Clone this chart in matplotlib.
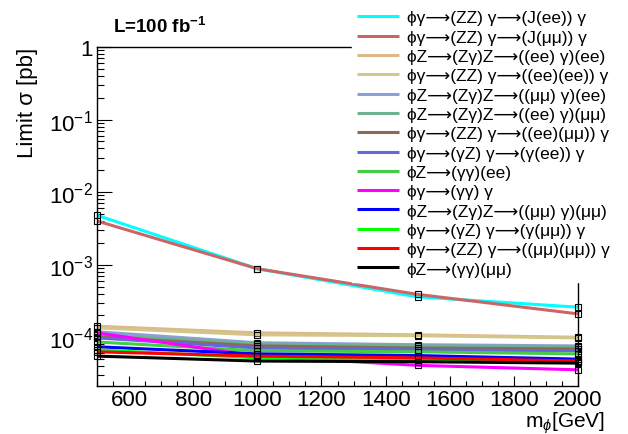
import matplotlib
matplotlib.use("Agg")
import matplotlib.pyplot as plt
from matplotlib.ticker import MultipleLocator, LogLocator, FuncFormatter, NullFormatter
import numpy as np

plt.rcParams['font.family'] = ['Liberation Sans', 'DejaVu Sans']
plt.rcParams['mathtext.fontset'] = 'custom'
plt.rcParams['mathtext.rm'] = 'Liberation Sans'
plt.rcParams['mathtext.it'] = 'Liberation Sans:italic'
plt.rcParams['mathtext.bf'] = 'Liberation Sans:bold'
plt.rcParams['mathtext.fallback'] = 'stixsans'

# ---- data ----
masses = [500, 1000, 1500, 2000]

labels = [
    "ϕγ⟶(ZZ) γ⟶(J(ee)) γ",
    "ϕγ⟶(ZZ) γ⟶(J(μμ)) γ",
    "ϕZ⟶(Zγ)Z⟶((ee) γ)(ee)",
    "ϕγ⟶(ZZ) γ⟶((ee)(ee)) γ",
    "ϕZ⟶(Zγ)Z⟶((μμ) γ)(ee)",
    "ϕZ⟶(Zγ)Z⟶((ee) γ)(μμ)",
    "ϕγ⟶(ZZ) γ⟶((ee)(μμ)) γ",
    "ϕγ⟶(γZ) γ⟶(γ(ee)) γ",
    "ϕZ⟶(γγ)(ee)",
    "ϕγ⟶(γγ) γ",
    "ϕZ⟶(Zγ)Z⟶((μμ) γ)(μμ)",
    "ϕγ⟶(γZ) γ⟶(γ(μμ)) γ",
    "ϕγ⟶(ZZ) γ⟶((μμ)(μμ)) γ",
    "ϕZ⟶(γγ)(μμ)",
]

colors = ['#00ffff', '#cc6666', '#deb887', '#d2c68a', '#8c9ed8', '#6db38f',
          '#8b6a55', '#6666dd', '#44cc44', '#ff00ff', '#0000ff', '#00ff00',
          '#ff0000', '#000000']

lim_J_ee      = [4.8e-3, 8.8e-4, 3.6e-4, 2.6e-4]
lim_J_mumu    = [4.0e-3, 8.8e-4, 3.9e-4, 2.1e-4]
lim_Zg_eeg_ee = [1.42e-4, 1.15e-4, 1.08e-4, 1.0e-4]
lim_ZZ_eeee   = [1.35e-4, 1.08e-4, 1.05e-4, 9.8e-5]
lim_Zg_mmg_ee = [1.19e-4, 8.4e-5, 7.9e-5, 7.6e-5]
lim_Zg_eeg_mm = [1.08e-4, 8.1e-5, 7.6e-5, 7.4e-5]
lim_ZZ_eemm   = [1.01e-4, 7.6e-5, 7.1e-5, 6.9e-5]
lim_gZ_ee     = [9.8e-5, 7.1e-5, 6.7e-5, 6.5e-5]
lim_gg_ee     = [8.6e-5, 6.5e-5, 6.3e-5, 5.9e-5]
lim_gg_g      = [1.15e-4, 5.5e-5, 4.1e-5, 3.56e-5]
lim_Zg_mmg_mm = [7.4e-5, 5.9e-5, 5.6e-5, 5.0e-5]
lim_gZ_mm     = [6.7e-5, 5.2e-5, 4.9e-5, 4.6e-5]
lim_ZZ_mmmm   = [6.3e-5, 5.5e-5, 5.2e-5, 4.7e-5]
lim_gg_mm     = [5.5e-5, 4.7e-5, 4.6e-5, 4.4e-5]

series = [lim_J_ee, lim_J_mumu, lim_Zg_eeg_ee, lim_ZZ_eeee, lim_Zg_mmg_ee,
          lim_Zg_eeg_mm, lim_ZZ_eemm, lim_gZ_ee, lim_gg_ee, lim_gg_g,
          lim_Zg_mmg_mm, lim_gZ_mm, lim_ZZ_mmmm, lim_gg_mm]

W, H = 628, 435
fig = plt.figure(figsize=(W / 100, H / 100), dpi=100)
ax = fig.add_axes([97 / W, 1 - 387 / H, (578 - 97) / W, (387 - 48) / H])

handles = []
for vals, col, lab in zip(series, colors, labels):
    ln, = ax.plot(masses, vals, color=col, lw=2.2, label=lab,
                  solid_capstyle='butt')
    ax.plot(masses, vals, ls='none', marker='s', ms=4, mfc='none',
            mec='black', mew=0.8, clip_on=False)
    handles.append(ln)

ax.set_yscale('log')
ax.set_xlim(500, 2000)
ax.set_ylim(2.13e-5, 1.0)

ax.xaxis.set_major_locator(MultipleLocator(200))
ax.xaxis.set_minor_locator(MultipleLocator(50))
ax.yaxis.set_major_locator(LogLocator(base=10, numticks=10))
ax.yaxis.set_minor_locator(LogLocator(base=10, subs=np.arange(2, 10), numticks=20))
ax.yaxis.set_minor_formatter(NullFormatter())


def yfmt(v, pos):
    e = int(round(np.log10(v)))
    if e == 0:
        return "1"
    return r"$10^{%d}$" % e


ax.yaxis.set_major_formatter(FuncFormatter(yfmt))

ax.tick_params(axis='both', which='both', direction='in', top=False, right=False,
               labelsize=16)
ax.tick_params(axis='y', which='major', length=10.5, width=0.8, pad=3)
ax.tick_params(axis='y', which='minor', length=5, width=0.8)
ax.tick_params(axis='x', which='major', length=7.5, width=0.8, pad=2)
ax.tick_params(axis='x', which='minor', length=3.8, width=0.8)
for sp in ax.spines.values():
    sp.set_linewidth(1.0)

ax.set_xlabel(r"m$_{\phi}$[GeV]", fontsize=15, ha='right', va='center')
ax.xaxis.set_label_coords((605 - 97) / (578 - 97), -(423 - 387) / (387 - 48))
ax.set_ylabel("Limit σ [pb]", fontsize=16, ha='right', va='center')
ax.yaxis.set_label_coords(-(97 - 28) / (578 - 97), 1.0)

fig.text(113 / W, 1 - 33 / H, r"L=100 fb$^{\mathbf{-1}}$", fontsize=13.5,
         fontweight='bold', ha='left', va='baseline')

leg = fig.legend(handles=handles, loc='upper left',
                 bbox_to_anchor=(352 / W, 1 - 6 / H), fontsize=12.5,
                 frameon=True, fancybox=False, framealpha=1.0,
                 facecolor='white', edgecolor='white', labelspacing=0.24,
                 handlelength=2.4, handletextpad=0.45, borderpad=0.3,
                 borderaxespad=0.0)
leg.set_zorder(5)

fig.savefig("out.png", dpi=100)
